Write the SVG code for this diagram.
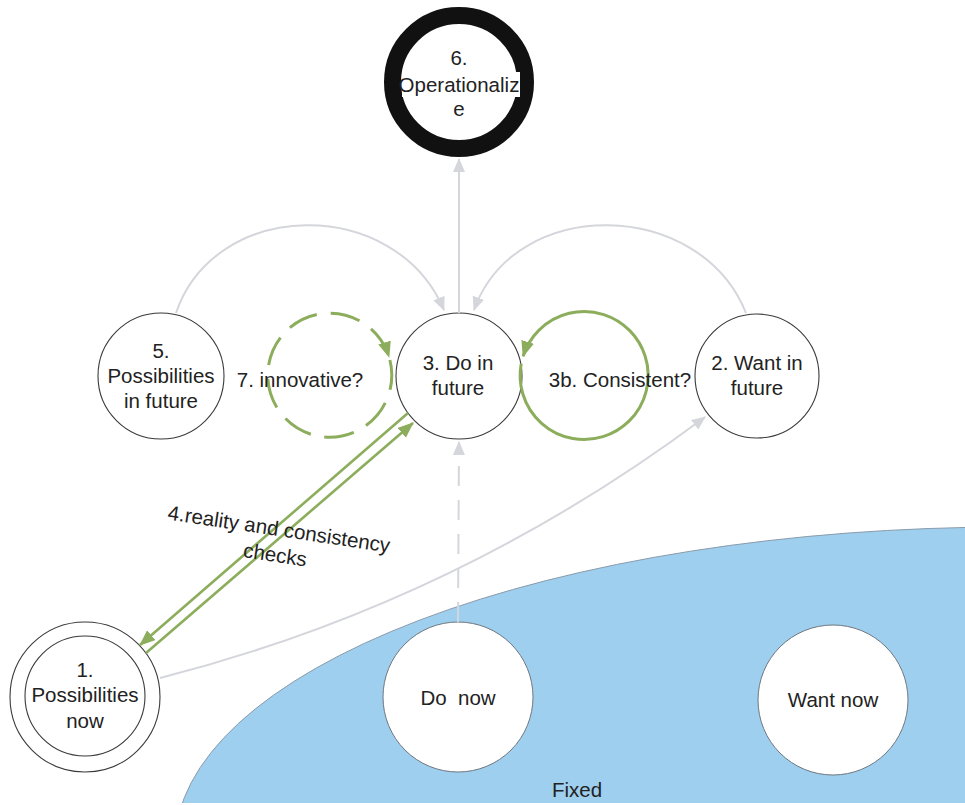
<svg xmlns="http://www.w3.org/2000/svg" width="965" height="805" viewBox="0 0 965 805">
  <style>
    text { font-family: "Liberation Sans", Arial, sans-serif; font-size: 20.5px; fill: #222; text-anchor: middle; }
    .node { fill: #fff; stroke: #3a3a3a; stroke-width: 1.1; }
    .soft { fill: #fff; stroke: #6f7780; stroke-width: 1; }
    .grey { fill: none; stroke: #d4d6dc; stroke-width: 2; }
    .grey-dash { fill: none; stroke: #d4d6dc; stroke-width: 2; stroke-dasharray: 20 14; }
    .green { fill: none; stroke: #8cad5c; stroke-width: 2.6; }
    .green-loop { fill: none; stroke: #8cad5c; stroke-width: 3; }
    .green-dash { fill: none; stroke: #8cad5c; stroke-width: 3; stroke-dasharray: 30 14; }
  </style>
  <defs>
    <marker id="arrow-grey" markerUnits="userSpaceOnUse" markerWidth="14" markerHeight="12" refX="13" refY="6" orient="auto">
      <path d="M0,0 L14,6 L0,12 z" fill="#d4d6dc"/>
    </marker>
    <marker id="arrow-green" markerUnits="userSpaceOnUse" markerWidth="16" markerHeight="13" refX="15" refY="6.5" orient="auto">
      <path d="M0,0 L16,6.5 L0,13 z" fill="#8cad5c"/>
    </marker>
    <clipPath id="page">
      <rect x="0" y="0" width="965" height="803"/>
    </clipPath>
  </defs>

  <!-- fixed region -->
  <g id="fixed-region">
    <ellipse cx="1010" cy="845" rx="835" ry="318" fill="#9ecfee" stroke="#8a9bab" stroke-width="1" clip-path="url(#page)"/>
    <text x="577" y="797" font-size="19.5">Fixed</text>
  </g>

  <!-- nodes -->
  <g id="node-6">
    <circle cx="459" cy="82" r="66.5" fill="#fff" stroke="#111" stroke-width="17"/>
    <rect x="402" y="72" width="118" height="25" fill="#fff"/>
    <text x="459" y="65">6.</text>
    <text x="459" y="92">Operationaliz</text>
    <text x="459" y="116">e</text>
  </g>
  <g id="node-5">
    <circle class="node" cx="161" cy="376" r="63"/>
    <text x="161" y="358">5.</text>
    <text x="161" y="383">Possibilities</text>
    <text x="161" y="408">in future</text>
  </g>
  <g id="node-3">
    <circle class="node" cx="459" cy="376" r="63"/>
    <text x="458" y="370">3. Do in</text>
    <text x="458" y="395">future</text>
  </g>
  <g id="node-2">
    <circle class="node" cx="757" cy="376" r="62"/>
    <text x="757" y="370">2. Want in</text>
    <text x="757" y="395">future</text>
  </g>
  <g id="node-1">
    <circle class="node" cx="85" cy="697" r="75"/>
    <circle class="node" cx="85" cy="696" r="60"/>
    <text x="85" y="677">1.</text>
    <text x="85" y="702">Possibilities</text>
    <text x="85" y="728">now</text>
  </g>
  <g id="node-do-now">
    <circle class="soft" cx="458" cy="697" r="75"/>
    <text x="458" y="705">Do&#160; now</text>
  </g>
  <g id="node-want-now">
    <circle class="soft" cx="833" cy="700" r="75"/>
    <text x="833" y="707">Want now</text>
  </g>

  <!-- connectors -->
  <g id="connectors">
    <!-- grey flows into "Do in future" and on to "Operationalize" -->
    <path class="grey" d="M459,313 L459,159" marker-end="url(#arrow-grey)"/>
    <path class="grey" d="M176,313 C215,198 395,195 444,310" marker-end="url(#arrow-grey)"/>
    <path class="grey" d="M746,313 C700,198 515,195 474,310" marker-end="url(#arrow-grey)"/>
    <path class="grey-dash" d="M458,622 L459,442" marker-end="url(#arrow-grey)"/>
    <path class="grey" d="M160,678 Q458,602 705,417" marker-end="url(#arrow-grey)"/>

    <!-- reality and consistency checks -->
    <path class="green" d="M408,413 L140,645" marker-end="url(#arrow-green)"/>
    <path class="green" d="M146,653 L413,423" marker-end="url(#arrow-green)"/>
    <g transform="translate(278,536) rotate(8.5)">
      <text x="0" y="0" font-size="21">4.reality and consistency</text>
      <text x="0" y="26" font-size="21">checks</text>
    </g>

    <!-- loop 7: innovative? (clockwise, dashed) -->
    <path class="green-dash" d="M389.9,360 A62,62 0 1 1 389,356.8" marker-end="url(#arrow-green)"/>
    <text x="300" y="387">7. innovative?</text>

    <!-- loop 3b: consistent? (counter-clockwise) -->
    <path class="green-loop" d="M521.2,363.8 A64,64 0 1 0 523.1,356.2" marker-end="url(#arrow-green)"/>
    <text x="620" y="387">3b. Consistent?</text>
  </g>
</svg>
